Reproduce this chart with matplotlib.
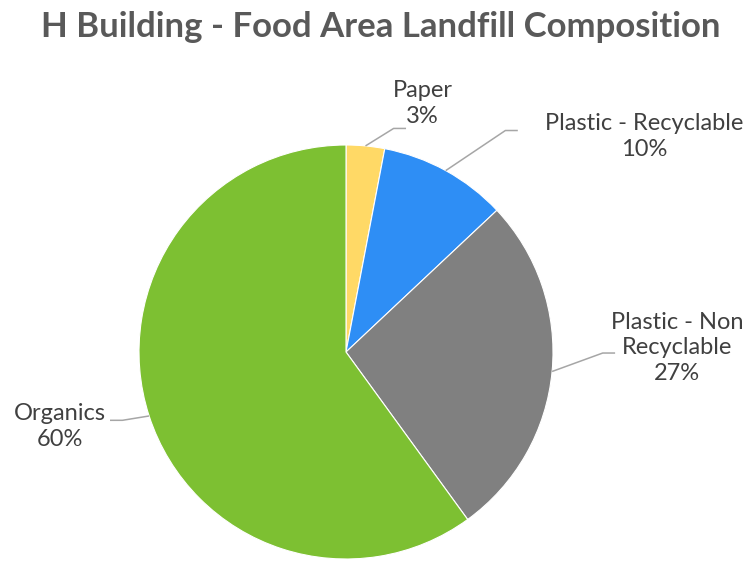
import numpy as np
import matplotlib.pyplot as plt

categories = ['Paper', 'Plastic - Recyclable', 'Plastic - Non\nRecyclable', 'Organics']
shares = [3, 10, 27, 60]
colors = ['#FFD966', '#2E8EF5', '#808080', '#7DC032']

# label text centres and leader-line elbows, in axes data units (radius = 1)
label_pos = [(0.37, 1.20), (1.44, 1.04), (1.60, 0.02), (-1.38, -0.36)]
elbows = [(0.23, 1.08), (0.77, 1.07), (1.24, -0.005), (-1.08, -0.33)]

W, H = 750, 561
fig = plt.figure(figsize=(W / 100, H / 100), dpi=100)
cx, cy, r = 346, 352, 207
ax = fig.add_axes([(cx - r) / W, (H - cy - r) / H, 2 * r / W, 2 * r / H])

wedges, _ = ax.pie(shares, colors=colors, startangle=90, counterclock=False,
                   radius=1, wedgeprops=dict(edgecolor='white', linewidth=0.8))
ax.set_xlim(-1, 1)
ax.set_ylim(-1, 1)
ax.set_aspect('equal')
ax.axis('off')

font = 'Lato'
for w, name, val, (tx, ty), (ex, ey) in zip(wedges, categories, shares, label_pos, elbows):
    mid = np.deg2rad((w.theta1 + w.theta2) / 2)
    px, py = np.cos(mid), np.sin(mid)
    # short horizontal tail from the elbow toward the text
    tail = 0.06 if tx > 0 else -0.06
    ax.plot([px, ex, ex + tail], [py, ey, ey], color='#A6A6A6', lw=1.1,
            clip_on=False, solid_capstyle='butt')
    ax.text(tx, ty, f'{name}\n{val}%', ha='center', va='center', fontsize=17,
            color='#404040', family=font, linespacing=1.28, clip_on=False)

fig.text(0.508, 0.952, 'H Building - Food Area Landfill Composition', ha='center',
         va='center', fontsize=25, fontweight='bold', color='#595959', family=font)

fig.savefig('out.png', dpi=100)
